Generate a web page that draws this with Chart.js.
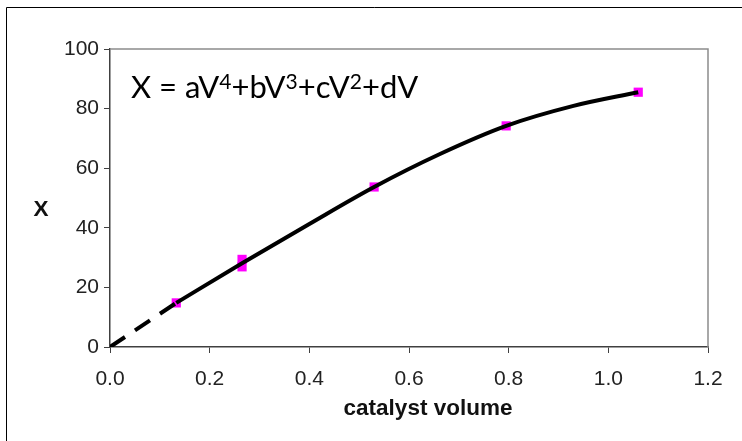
<!DOCTYPE html>
<html>
<head>
<meta charset="utf-8">
<script src="https://cdn.jsdelivr.net/npm/chart.js@4.4.0/dist/chart.umd.min.js"></script>
<style>
  html, body { margin: 0; padding: 0; background: #fff; }
  #wrap { width: 742px; height: 441px; }
</style>
</head>
<body>
<div id="wrap"><canvas id="chart" width="742" height="441"></canvas></div>
<script>
// measured points
const volumes = [0.133, 0.265, 0.265, 0.53, 0.795, 1.06];
const conversions = [14.8, 29.4, 26.9, 53.7, 74.2, 85.5];

// polynomial trend line over the measured range
const fitVolumes = [0.133, 0.265, 0.4, 0.53, 0.66, 0.795, 0.93, 1.06];
const fitConversions = [14.8, 28.1, 41.3, 53.7, 64.6, 74.2, 80.9, 85.5];

// trend line extended back to the origin (dashed)
const extVolumes = [0, 0.133];
const extConversions = [0, 14.8];

const xTicks = [0, 0.2, 0.4, 0.6, 0.8, 1.0, 1.2];
const yTicks = [0, 20, 40, 60, 80, 100];

const tickFont = { family: '"Liberation Sans", Arial, sans-serif', size: 21 };
const axisColor = '#404040';

function toXY(xs, ys) {
    return xs.map((x, i) => ({ x: x, y: ys[i] }));
}

const decor = {
    id: 'decor',
    beforeDraw(chart) {
        const ctx = chart.ctx;
        ctx.save();
        ctx.fillStyle = '#fff';
        ctx.fillRect(0, 0, chart.width, chart.height);
        // outer frame, only top and left edges are inside the canvas
        ctx.strokeStyle = '#000';
        ctx.lineWidth = 1;
        ctx.beginPath();
        ctx.moveTo(6.5, chart.height);
        ctx.lineTo(6.5, 7.5);
        ctx.lineTo(chart.width, 7.5);
        ctx.stroke();
        ctx.restore();
    },
    beforeDatasetsDraw(chart) {
        const a = chart.chartArea;
        const ctx = chart.ctx;
        ctx.save();
        ctx.strokeStyle = '#8c8c8c';
        ctx.lineWidth = 1.5;
        ctx.beginPath();
        ctx.moveTo(a.left, a.top);
        ctx.lineTo(a.right, a.top);
        ctx.lineTo(a.right, a.bottom);
        ctx.stroke();
        ctx.restore();
    },
    afterDraw(chart) {
        const ctx = chart.ctx;
        ctx.save();
        ctx.fillStyle = '#111';
        ctx.font = 'bold 22.5px "Liberation Sans", Arial, sans-serif';
        ctx.textAlign = 'center';
        ctx.textBaseline = 'middle';
        ctx.fillText('catalyst volume', 428, 409);
        ctx.fillText('X', 41, 210);

        // equation, with superscript powers
        const parts = [
            ['X = aV', false], ['4', true], ['+bV', false], ['3', true],
            ['+cV', false], ['2', true], ['+dV', false]
        ];
        const big = 31, small = 21;
        let x = 131, base = 98;
        ctx.textAlign = 'left';
        ctx.textBaseline = 'alphabetic';
        ctx.fillStyle = '#000';
        parts.forEach(p => {
            ctx.font = (p[1] ? small : big) + 'px Lato, "Open Sans", sans-serif';
            ctx.fillText(p[0], x, p[1] ? base - 9 : base);
            x += ctx.measureText(p[0]).width;
        });
        ctx.restore();
    }
};

new Chart(document.getElementById('chart'), {
    type: 'scatter',
    data: {
        datasets: [
            {
                type: 'line',
                data: toXY(fitVolumes, fitConversions),
                borderColor: '#000',
                borderWidth: 4,
                pointRadius: 0,
                cubicInterpolationMode: 'monotone',
                fill: false,
                order: 0
            },
            {
                type: 'line',
                data: toXY(extVolumes, extConversions),
                borderColor: '#000',
                borderWidth: 4,
                borderDash: [18, 12],
                pointRadius: 0,
                fill: false,
                order: 0
            },
            {
                data: toXY(volumes, conversions),
                pointStyle: 'rect',
                pointRadius: 6.5,
                backgroundColor: '#ff00ff',
                borderColor: '#ff00ff',
                borderWidth: 0,
                order: 1
            }
        ]
    },
    options: {
        responsive: false,
        devicePixelRatio: 1,
        animation: false,
        layout: { padding: { top: 49, right: 34, left: 0, bottom: 0 } },
        plugins: {
            legend: { display: false },
            tooltip: { enabled: false }
        },
        scales: {
            x: {
                type: 'linear',
                min: 0,
                max: 1.2,
                afterBuildTicks: s => { s.ticks = xTicks.map(v => ({ value: v })); },
                afterFit: s => { s.height = 94; },
                grid: { drawOnChartArea: false, drawTicks: true, tickLength: 6, color: axisColor },
                border: { color: axisColor, width: 1.5 },
                ticks: {
                    font: tickFont,
                    color: '#222',
                    padding: 14,
                    maxRotation: 0,
                    callback: v => Number(v).toFixed(1)
                }
            },
            y: {
                type: 'linear',
                min: 0,
                max: 100,
                afterBuildTicks: s => { s.ticks = yTicks.map(v => ({ value: v })); },
                afterFit: s => { s.width = 110; },
                grid: { drawOnChartArea: false, drawTicks: true, tickLength: 6, color: axisColor },
                border: { color: axisColor, width: 1.5 },
                ticks: {
                    font: tickFont,
                    color: '#222',
                    padding: 5
                }
            }
        }
    },
    plugins: [decor]
});
</script>
</body>
</html>
